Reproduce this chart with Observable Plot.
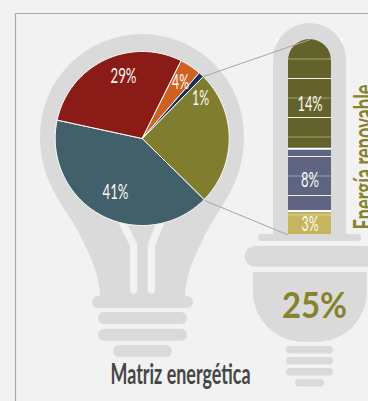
<!DOCTYPE html>
<html><head><meta charset="utf-8">
<script src="https://cdn.jsdelivr.net/npm/d3@7"></script>
<script src="https://cdn.jsdelivr.net/npm/@observablehq/plot@0.6"></script>
<style>
html,body{margin:0;padding:0;background:#f3f2f3;overflow:hidden}
#chart{position:relative;width:368px;height:401px;overflow:hidden}
#chart svg{position:absolute;left:0;top:0;background:transparent;overflow:hidden}
</style></head><body><div id="chart"></div>
<script>
const pieNames = ["Renovable","Gas","Petróleo","Carbón","Otros"];
const pieValues = [25,41,29,4,1];
const pieColors = ["#807d2e","#42606a","#8b1b16","#cf6223","#1c2e55"];
const pieLabels = ["","41%","29%","4%","1%"];
const tubeNames = ["Solar","Eólica","Hidro"];
const tubeValues = [3,8,14];
const tubeColors = ["#c7b55e","#5e6482","#63622a"];
const tubeLabels = ["3%","8%","14%"];
const tubeLabelMid = [1.4,7,16.8];
const tubeTicks = [2.5,5,7.5,10,12.5,15,17.5,20,22.5];
const tubeGaps = [3,11];
const total = "25%";
const title = "Matriz energética";
const sideTitle = "Energía renovable";

const W=368,H=401,CX=141.7,CY=138,R=87;
const FONT='Lato,sans-serif';
const ux=p=>(p-CX)/R, uy=p=>(p-CY)/R;
const labelPx=[null,[115,191],[123,75],[180,81],[200,97]];
const textWidths=new Map([["29%",26],["41%",26],["4%",17],["1%",17],["14%",25],["8%",18],["3%",17],[title,140],[sideTitle,145],[total,65]]);
function condense(svg){
  d3.select(svg).selectAll("text").each(function(){
    const w=textWidths.get(this.textContent);
    if(w){this.setAttribute("textLength",w);this.setAttribute("lengthAdjust","spacingAndGlyphs");}
  });
  return svg;
}

function decor(){
  const g=d3.create("svg:g");
  const gray="#dadada",bg="#f3f2f3";
  const add=(d,f,s,w)=>g.append("path").attr("d",d).attr("fill",f||"none").attr("stroke",s||"none").attr("stroke-width",w||0);
  const rr=(x,y,w,h,r)=>`M${x+r} ${y}H${x+w-r}A${r} ${r} 0 0 1 ${x+w-r} ${y+h}H${x+r}A${r} ${r} 0 0 1 ${x+r} ${y}Z`;
  add("M15.5 401V13.5H368",null,"#a9a9a9",1.2);
  // bulb
  add("M40 136A102 102 0 1 1 244 136C244 185 218 208 205 235C194 258 185 275 185 298H100C100 275 91 258 80 235C67 208 40 185 40 136Z",gray);
  add(rr(92,296,101,12,6),gray);
  add(rr(98,312,89,12,6),gray);
  add(rr(98,328.7,89,12,6),gray);
  add(rr(113,345,59,12,6),gray);
  add("M123 224L133.6 245V290",null,bg,7.4).attr("stroke-linecap","round");
  add("M160 224L151.4 245V290",null,bg,7.4).attr("stroke-linecap","round");
  // tube + plug
  add("M279 22.6H352",null,"#f6efe3",1.5);
  add("M275.7 38H343V60H275.7Z","#fafafa");
  add("M273 234V59.5A36.5 36.5 0 0 1 346 59.5V234Z",gray);
  add(rr(258,234,103,7,3.5),gray);
  add(rr(245,246,140,20.7,10),gray);
  add("M253 272H366.7V292A49.7 49.7 0 0 1 317 341.7H303A50 50 0 0 1 253 292Z",gray);
  add(rr(286,346,47,7.5,3.7),gray);
  add(rr(286,357,47,7.5,3.7),gray);
  add(rr(286,368,47,7.5,3.7),gray);
  add(rr(295,379,29,7.5,3.7),gray);
  return g.node();
}

const arcs=d3.pie().sort(null).value(d=>d).startAngle(44.6*Math.PI/180).endAngle((360+44.6)*Math.PI/180)(pieValues);
const slicePts=arcs.flatMap((a,i)=>{
  const n=Math.max(2,Math.ceil((a.endAngle-a.startAngle)/0.02));
  const pts=[{i,x:0,y:0}];
  for(let k=0;k<=n;k++){const t=a.startAngle+(a.endAngle-a.startAngle)*k/n;pts.push({i,x:Math.sin(t),y:-Math.cos(t)})}
  pts.push({i,x:0,y:0});
  return pts;
});
const labelRows=pieLabels.map((t,i)=>({t,x:labelPx[i]?ux(labelPx[i][0]):0,y:labelPx[i]?uy(labelPx[i][1]):0})).filter(d=>d.t);

const pie=Plot.plot({
  width:W,height:H,
  marginLeft:CX-R,marginRight:W-CX-R,marginTop:CY-R,marginBottom:H-CY-R,
  x:{domain:[-1,1],axis:null},
  y:{domain:[1,-1],axis:null},
  style:{background:"transparent"},
  marks:[
    decor,
    Plot.line(slicePts,{x:"x",y:"y",z:"i",fill:d=>pieColors[d.i],stroke:"#fff",strokeWidth:1,strokeLinejoin:"round"}),
    Plot.text(labelRows,{x:"x",y:"y",text:"t",fill:"#fbf8f2",fontSize:22,fontFamily:FONT,fontWeight:400}),
    Plot.text([title],{x:()=>ux(180),y:()=>uy(383),text:d=>d,fill:"#464646",fontSize:28,fontFamily:FONT,fontWeight:700,lineAnchor:"bottom"}),
    Plot.text([total],{x:()=>ux(314),y:()=>uy(317),text:d=>d,fill:"#85832f",fontSize:37,fontWeight:700,fontFamily:FONT,lineAnchor:"bottom"}),
    Plot.text([sideTitle],{x:()=>ux(373),y:()=>uy(229),text:d=>d,fill:"#85832f",fontSize:28,fontFamily:FONT,fontWeight:700,rotate:-90,textAnchor:"start",lineAnchor:"bottom"})
  ]
});

const tubeRows=tubeValues.map((v,i)=>({name:tubeNames[i],value:v,fill:tubeColors[i],label:tubeLabels[i],mid:tubeLabelMid[i]}));
const tube=Plot.plot({
  width:W,height:H,
  marginLeft:288,marginRight:W-331,marginTop:39,marginBottom:H-234,
  x:{domain:["t"],axis:null,padding:0},
  y:{domain:[0,25],axis:null},
  style:{background:"transparent"},
  marks:[
    Plot.barY(tubeRows.slice(0,2),Plot.stackY({x:()=>"t",y:"value",fill:"fill",order:null})),
    Plot.barY(tubeRows.slice(2),{x:()=>"t",y1:()=>11,y2:()=>25,fill:"fill",ry1:21.5}),
    Plot.ruleY(tubeTicks.filter((d,i)=>i%2==0),{stroke:"#fff",strokeOpacity:.4,strokeWidth:1.2}),
    Plot.ruleY(tubeTicks.filter((d,i)=>i%2==1),{stroke:"#f6f2e2",strokeWidth:1}),
    Plot.ruleY(tubeGaps,{stroke:"#fff",strokeWidth:2}),
    Plot.text(tubeRows,{x:()=>"t",y:"mid",text:"label",fill:"#fbf8f2",fontSize:22,fontFamily:FONT,fontWeight:400})
  ]
});
const lead=Plot.plot({width:W,height:H,margin:0,
  x:{domain:[0,W],axis:null},y:{domain:[H,0],axis:null},style:{background:"transparent"},
  marks:[Plot.link([[203,76,310,39],[204,200,288,234.6]],{x1:d=>d[0],y1:d=>d[1],x2:d=>d[2],y2:d=>d[3],stroke:"#a6a6a6",strokeWidth:1})]
});
document.getElementById("chart").append(condense(pie),condense(tube),lead);
</script></body></html>
